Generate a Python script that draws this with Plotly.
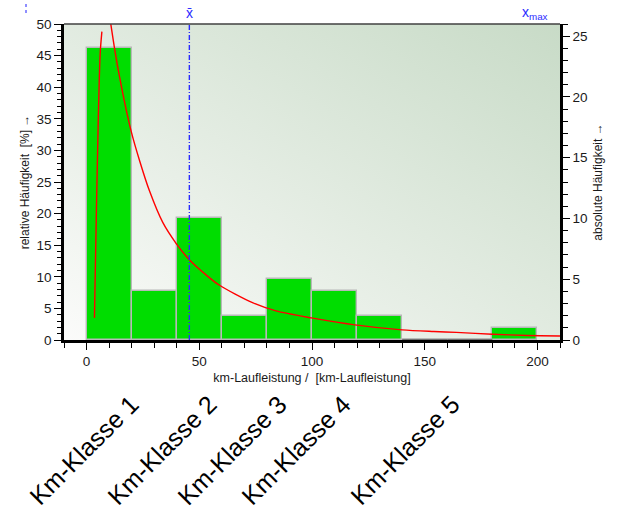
import base64
import plotly.graph_objects as go

# Histogram of km-Laufleistung: 20 km bins, absolute counts per bin
bin_left = [0, 20, 40, 60, 80, 100, 120, 140, 160, 180]
bin_width = 20
counts = [24, 4, 10, 2, 5, 4, 2, 0, 0, 1]

# Fitted density curve (relative frequency in %), rising and falling branch
curve_rise_x = [3.5, 4.3, 5.2, 6.05, 6.8]
curve_rise_y = [3.5, 19.0, 34.8, 45.4, 48.8]
curve_fall_x = [10.5, 12.4, 14.6, 17.6, 19.8, 23.5, 27.9, 33.8, 39.7, 45.6, 53.0,
                58.8, 73.6, 84.0, 99.7, 119.0, 140.0, 154.0, 164.0, 180.0, 195.6, 210.0]
curve_fall_y = [50.6, 46.2, 41.7, 36.4, 33.0, 28.4, 23.6, 18.6, 15.3, 12.7, 10.3,
                8.7, 5.9, 4.6, 3.5, 2.4, 1.6, 1.34, 1.2, 0.92, 0.72, 0.64]

mean_km = 45.6
max_km = 199.0

class_labels = ["Km-Klasse 1", "Km-Klasse 2", "Km-Klasse 3", "Km-Klasse 4", "Km-Klasse 5"]
class_label_x = [-1.2, 33.4, 64.6, 92.9, 141.2]

x_ticks = [0, 50, 100, 150, 200]

total = sum(counts)
percent = [c / total * 100 for c in counts]
centers = [b + bin_width / 2 for b in bin_left]

FONT = "Liberation Sans, Arial, sans-serif"
BLUE = "#2b2bff"

fig = go.Figure()

fig.add_trace(go.Bar(
    x=centers, y=percent, width=[bin_width] * len(centers),
    marker=dict(color="#00dd00", line=dict(color="#b8b8b8", width=1.4)),
    hoverinfo="skip", showlegend=False,
))

# absolute counts on the secondary axis (invisible, keeps the right axis alive)
fig.add_trace(go.Scatter(
    x=centers, y=counts, yaxis="y2", mode="markers",
    marker=dict(opacity=0), hoverinfo="skip", showlegend=False,
))

fig.add_trace(go.Scatter(
    x=curve_rise_x + [None] + curve_fall_x,
    y=curve_rise_y + [None] + curve_fall_y,
    mode="lines", line=dict(color="#ff0000", width=1.4, shape="spline", smoothing=0.8),
    connectgaps=False, hoverinfo="skip", showlegend=False,
))

# gradient backdrop for the plotting area
svg = ('<svg xmlns="http://www.w3.org/2000/svg" width="100" height="100" '
       'viewBox="0 0 100 100" preserveAspectRatio="none"><defs>'
       '<linearGradient id="g" x1="0" y1="1" x2="1" y2="0">'
       '<stop offset="0" stop-color="#fbfbfa"/><stop offset="1" stop-color="#c8dbc7"/>'
       '</linearGradient></defs><rect width="100" height="100" fill="url(#g)"/></svg>')
bg_src = "data:image/svg+xml;base64," + base64.b64encode(svg.encode()).decode()

shapes = [
    # mean line
    dict(type="line", xref="x", yref="y", x0=mean_km, x1=mean_km, y0=0, y1=50,
         line=dict(color=BLUE, width=1.4, dash="5px,2px,1px,2px"), layer="above"),
    # top frame line
    dict(type="line", xref="paper", yref="paper", x0=0, x1=1, y0=1, y1=1,
         line=dict(color="#404040", width=1.5)),
    # small dotted marker at the top left
    dict(type="line", xref="paper", yref="paper", x0=-0.0766, x1=-0.0766, y0=1.035, y1=1.073,
         line=dict(color="#6a6aff", width=1.5, dash="dot")),
]
# empty bins show only their outline on the baseline
for b, c in zip(bin_left, counts):
    if c == 0:
        shapes.append(dict(type="line", xref="x", yref="y", x0=b, x1=b + bin_width, y0=0, y1=0,
                           line=dict(color="#707070", width=2.5), layer="above"))

annotations = [
    dict(x=mean_km, y=1, xref="x", yref="paper", text="x\u0304", showarrow=False,
         yanchor="bottom", yshift=1, font=dict(family=FONT, size=14, color=BLUE)),
    dict(x=max_km, y=1, xref="x", yref="paper", text="x<sub>max</sub>", showarrow=False,
         yanchor="bottom", yshift=0, font=dict(family=FONT, size=14, color=BLUE)),
]
for lab, lx in zip(class_labels, class_label_x):
    annotations.append(dict(x=lx, y=-0.348, xref="x", yref="paper", text=lab,
                            showarrow=False, textangle=-45, xanchor="center", yanchor="middle",
                            font=dict(family=FONT, size=25, color="#000000")))

fig.update_layout(
    width=617, height=509,
    margin=dict(l=64, r=57, t=24, b=169),
    paper_bgcolor="white", plot_bgcolor="rgba(0,0,0,0)",
    font=dict(family=FONT, size=13, color="#1a1a1a"),
    bargap=0,
    images=[dict(source=bg_src, xref="paper", yref="paper", x=0, y=1, sizex=1, sizey=1,
                 sizing="stretch", layer="below", xanchor="left", yanchor="top")],
    shapes=shapes,
    annotations=annotations,
    xaxis=dict(
        range=[-10, 210], tickvals=x_ticks, ticks="outside", ticklen=7, tickwidth=1.3,
        tickcolor="black", showline=True, linecolor="black", linewidth=3,
        showgrid=False, zeroline=False, layer="below traces",
        minor=dict(dtick=10, tick0=0, ticks="outside", ticklen=5, tickcolor="black", tickwidth=1.2),
        title=dict(text="km-Laufleistung /  [km-Laufleistung]", standoff=6,
                   font=dict(family=FONT, size=12.5)),
        tickfont=dict(size=13.5),
    ),
    yaxis=dict(
        range=[0, 50], dtick=5, ticks="outside", ticklen=7, tickwidth=1.3, tickcolor="black",
        showline=True, linecolor="black", linewidth=2.5, showgrid=False, zeroline=False,
        minor=dict(dtick=1, ticks="outside", ticklen=4, tickcolor="black", tickwidth=1.2),
        title=dict(text="relative Häufigkeit  [%] \u2192", standoff=5,
                   font=dict(family=FONT, size=12)),
        tickfont=dict(size=13.5),
    ),
    yaxis2=dict(
        overlaying="y", side="right", range=[0, total / 2], dtick=5,
        ticks="outside", ticklen=7, tickwidth=1.3, tickcolor="black",
        showline=True, linecolor="black", linewidth=2.5, showgrid=False, zeroline=False,
        minor=dict(dtick=1, ticks="outside", ticklen=5, tickcolor="black", tickwidth=1.2),
        title=dict(text="absolute Häufigkeit \u2192", standoff=8,
                   font=dict(family=FONT, size=12)),
        tickfont=dict(size=13.5),
    ),
)

fig.write_html("out.html")
